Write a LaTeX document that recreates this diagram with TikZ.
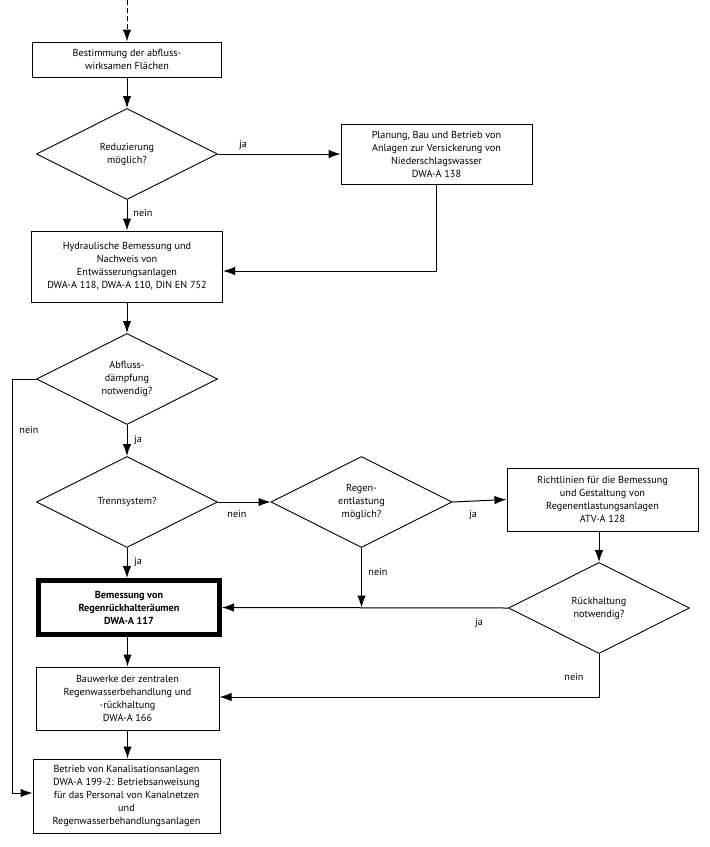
\documentclass[tikz,border=0pt]{standalone}
\usepackage{fontspec}
\setmainfont{PT Sans}
\usetikzlibrary{shapes.geometric,arrows.meta}
\begin{document}
\begin{tikzpicture}[x=1pt,y=-1pt,
  every node/.style={font=\fontsize{10.2}{13}\selectfont},
  box/.style={draw,line width=1pt,rectangle,align=center,inner sep=1pt},
  dia/.style={draw,line width=0.9pt,diamond,align=center,inner sep=0pt,minimum width=181pt,minimum height=91pt},
  lab/.style={inner sep=1pt},
  arr/.style={line width=1pt,-{Latex[length=12pt,width=8.5pt]}},
  ln/.style={line width=1pt}]
\useasboundingbox (0,0) rectangle (710,847);
\coordinate (top) at (127,0);
\node[box,minimum width=189pt,minimum height=35pt] (b1) at (127,59.5) {Bestimmung der abfluss-\\wirksamen Flächen};
\node[dia] (d1) at (127,154) {Reduzierung\\möglich?};
\node[box,minimum width=191pt,minimum height=60pt] (b2) at (436.5,154) {Planung, Bau und Betrieb von\\Anlagen zur Versickerung von\\Niederschlagswasser\\DWA-A 138};
\node[box,minimum width=191pt,minimum height=71pt] (b3) at (127,266.5) {Hydraulische Bemessung und\\Nachweis von\\Entwässerungsanlagen\\DWA-A 118, DWA-A 110, DIN EN 752};
\node[dia] (d2) at (127,379) {Abfluss-\\dämpfung\\notwendig?};
\node[dia] (d3) at (127,502) {Trennsystem?};
\node[dia] (d4) at (361.5,502) {Regen-\\entlastung\\möglich?};
\node[box,minimum width=191pt,minimum height=63pt] (b5) at (602.5,499.5) {Richtlinien für die Bemessung\\und Gestaltung von\\Regenentlastungsanlagen\\ATV-A 128};
\node[dia] (d5) at (599,608) {Rückhaltung\\notwendig?};
\node[box,line width=5pt,minimum width=181pt,minimum height=54pt,font=\fontsize{10.2}{13}\selectfont\bfseries] (b4) at (129,607.5) {Bemessung von\\Regenrückhalteräumen\\DWA-A 117};
\node[box,minimum width=183pt,minimum height=63pt] (b6) at (127.5,698.5) {Bauwerke der zentralen\\Regenwasserbehandlung und\\-rückhaltung\\DWA-A 166};
\node[box,minimum width=187pt,minimum height=74pt] (b7) at (126.5,796) {Betrieb von Kanalisationsanlagen\\DWA-A 199-2: Betriebsanweisung\\für das Personal von Kanalnetzen\\und\\Regenwasserbehandlungsanlagen};
\coordinate (lc) at (12,379);
% connectors
\draw[line width=1pt,dash pattern=on 5pt off 3pt] (top) -- ([yshift=10pt]b1.north);
\draw[arr] ([yshift=12pt]b1.north) -- (b1.north);
\draw[arr] (b1) -- (d1);
\draw[arr] (d1.east) -- (b2.west);
\draw[arr] (d1.south) -- (b3.north);
\draw[arr] (b2.south) |- ([yshift=-4.5pt]b3.east);
\draw[arr] (b3) -- (d2);
\draw[arr] (d2) -- (d3);
\draw[arr] (d2.west) -- (lc) |- ([yshift=3pt]b7.west);
\draw[arr] (d3.east) -- (d4.west);
\draw[arr] (d4.east) -- (b5.west);
\draw[arr] (b5.south -| d5.north) -- (d5.north);
\draw[arr] (d3) -- (d3 |- b4.north);
\draw[arr] (d5.west) -- (b4.east);
\draw[arr] (d4.south) -- (d4.south |- b4.east);
\draw[arr] (d5.south) |- ([yshift=1.5pt]b6.east);
\draw[arr] (b6 |- b4.south) -- (b6.north);
\draw[arr] (b6) -- (b6 |- b7.north);
% labels
\node[lab] (l1) at (243,145) {ja};
\node[lab] (l2) at (143,213) {nein};
\node[lab] (l3) at (29,430) {nein};
\node[lab] (l4) at (138,440) {ja};
\node[lab] (l5) at (237,514) {nein};
\node[lab] (l6) at (138,562) {ja};
\node[lab] (l7) at (378,572) {nein};
\node[lab] (l8) at (473,515) {ja};
\node[lab] (l9) at (479,623) {ja};
\node[lab] (l10) at (574,677) {nein};
\end{tikzpicture}
\end{document}
